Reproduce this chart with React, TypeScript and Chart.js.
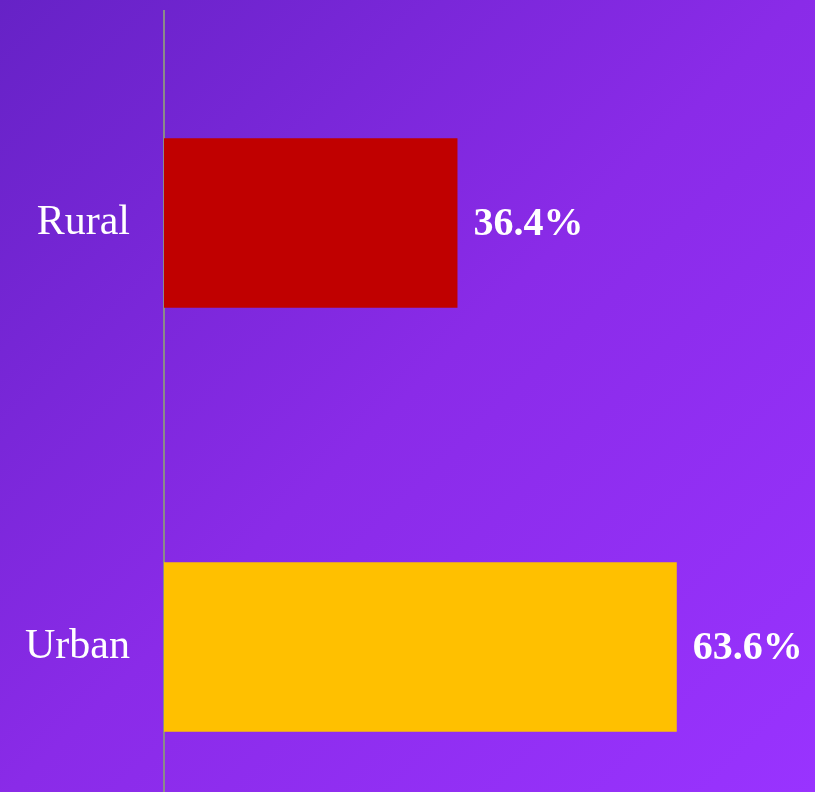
import React, { useEffect, useRef } from "react";
import { Chart, registerables } from "chart.js";

Chart.register(...registerables);

const categories = ["Rural", "Urban"];
const values = [36.4, 63.6];
const barColors = ["#c00000", "#ffc000"];
const valueLabels = ["36.4%", "63.6%"];

const FONT = "'Liberation Serif', serif";

const valueLabelPlugin = {
  id: "valueLabels",
  afterDatasetsDraw(chart: any) {
    const ctx = chart.ctx;
    const meta = chart.getDatasetMeta(0);
    ctx.save();
    ctx.fillStyle = "#ffffff";
    ctx.font = `bold 40px ${FONT}`;
    ctx.textAlign = "left";
    ctx.textBaseline = "middle";
    meta.data.forEach((bar: any, i: number) => {
      ctx.fillText(valueLabels[i], bar.x + 16, bar.y + 2);
    });
    ctx.restore();
  },
};

export default function App() {
  const ref = useRef<HTMLCanvasElement | null>(null);
  useEffect(() => {
    if (!ref.current) return;
    const chart = new Chart(ref.current, {
      type: "bar",
      data: {
        labels: categories,
        datasets: [
          {
            data: values,
            backgroundColor: barColors,
            borderWidth: 0,
            barPercentage: 0.5,
            categoryPercentage: 0.8,
          },
        ],
      },
      options: {
        indexAxis: "y",
        animation: false,
        responsive: false,
        maintainAspectRatio: false,
        layout: { padding: { top: 10, right: 6, bottom: 0, left: 1 } },
        plugins: {
          legend: { display: false },
          tooltip: { enabled: false },
        },
        scales: {
          x: {
            display: false,
            min: 0,
            max: 80,
          },
          y: {
            grid: { display: false, drawTicks: false },
            border: { display: true, color: "#8a8a8a", width: 2 },
            ticks: {
              color: "#ffffff",
              padding: 34,
              font: { family: FONT, size: 42 },
            },
            afterFit(scale: any) {
              scale.width = 163;
            },
          },
        },
      },
      plugins: [valueLabelPlugin],
    });
    return () => chart.destroy();
  }, []);

  return (
    <div
      style={{
        position: "fixed",
        left: 0,
        top: 0,
        width: 815,
        height: 792,
        overflow: "hidden",
        background: "linear-gradient(135deg, #6622c6 0%, #8a2be8 50%, #9933ff 100%)",
      }}
    >
      <canvas
        ref={ref}
        width={815}
        height={966}
        style={{ display: "block", position: "absolute", left: 0, top: -48 }}
      />
    </div>
  );
}
